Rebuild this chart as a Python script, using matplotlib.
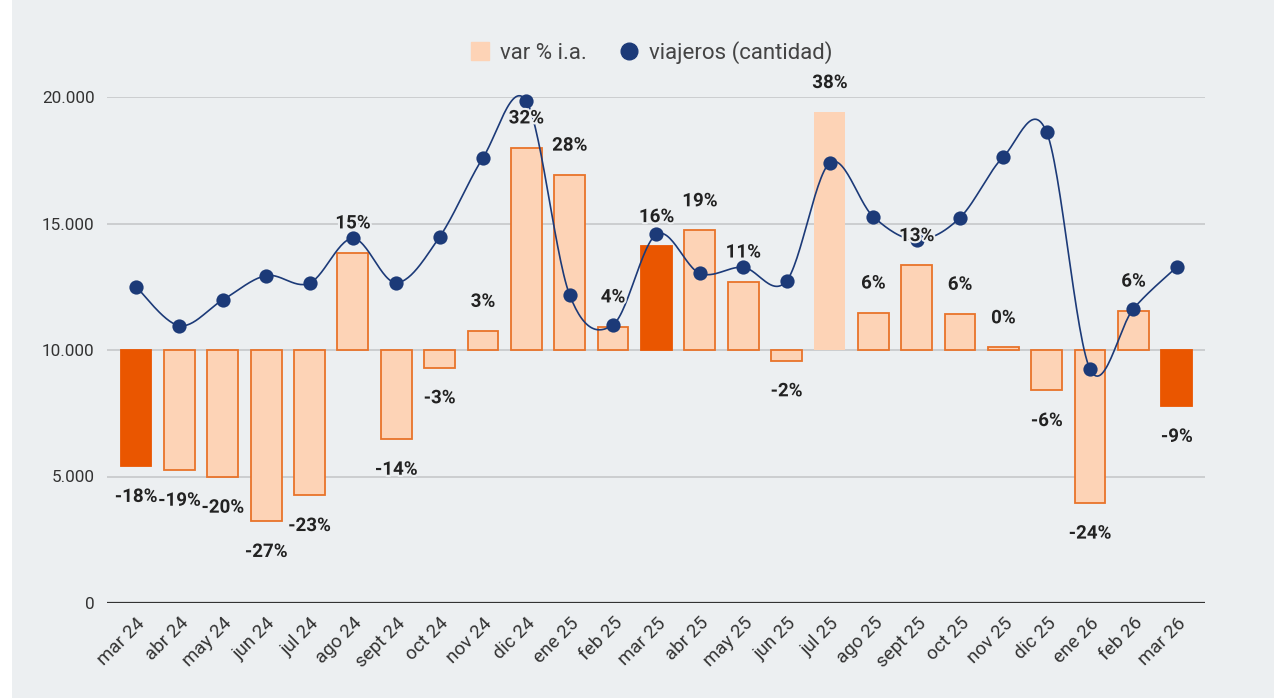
import numpy as np
import matplotlib
matplotlib.use("Agg")
import matplotlib.pyplot as plt
import matplotlib.patheffects as pe
from matplotlib.lines import Line2D
from matplotlib.patches import Rectangle

plt.rcParams['font.family'] = ['Roboto', 'DejaVu Sans']

meses = ["mar 24", "abr 24", "may 24", "jun 24", "jul 24", "ago 24", "sept 24",
         "oct 24", "nov 24", "dic 24", "ene 25", "feb 25", "mar 25", "abr 25",
         "may 25", "jun 25", "jul 25", "ago 25", "sept 25", "oct 25", "nov 25",
         "dic 25", "ene 26", "feb 26", "mar 26"]

# variacion % interanual
var_ia = [-18.4, -19.0, -20.1, -27.1, -23.0, 15.4, -14.1, -2.8, 3.0, 32.0,
          27.7, 3.7, 16.4, 18.9, 10.8, -1.7, 37.6, 5.9, 13.4, 5.7, 0.4,
          -6.4, -24.2, 6.2, -8.9]

# viajeros (cantidad)
viajeros = [12500, 10960, 11980, 12940, 12640, 14410, 12660, 14470, 17600,
            19840, 12170, 11000, 14570, 13030, 13270, 12730, 17400, 15270,
            14350, 15230, 17640, 18600, 9240, 11630, 13280]

destacados = ["mar 24", "mar 25", "mar 26"]
sin_borde = ["jul 25"]

bg = "#ECEFF1"
peach = "#FDD3B6"
borde = "#E8732A"
naranja = "#EA5600"
azul = "#1C3A78"

fig = plt.figure(figsize=(12.74, 6.98), dpi=100, facecolor="white")
fig.patches.append(Rectangle((12 / 1274, 0), 1, 1, transform=fig.transFigure,
                             facecolor=bg, edgecolor="none", zorder=-10))
ax = fig.add_axes([107 / 1274, 95 / 698, (1205 - 107) / 1274, (603 - 97) / 698])
ax.set_facecolor(bg)

x = np.arange(len(meses))
base = 10000
escala = 250  # viajeros por punto porcentual (eje secundario oculto)

for i, (m, v) in enumerate(zip(meses, var_ia)):
    if m in destacados:
        fc, ec = naranja, naranja
    elif m in sin_borde:
        fc, ec = peach, "none"
    else:
        fc, ec = peach, borde
    ax.bar(i, v * escala, bottom=base, width=0.71, color=fc, edgecolor=ec,
           linewidth=1.3, zorder=2)
    off = 21 if v >= 0 else -22
    ax.annotate(f"{round(v):d}%", (i, base + v * escala), xytext=(0, off),
                textcoords="offset points", ha="center", va="center",
                fontsize=13.5, fontweight="bold", color="#222222", zorder=6,
                path_effects=[pe.withStroke(linewidth=3, foreground=bg)])

# curva suavizada (catmull-rom) entre los puntos
px = np.array(x, dtype=float)
py = np.array(viajeros, dtype=float)
P = np.column_stack([px, py])
P = np.vstack([P[0], P, P[-1]])
t = np.linspace(0, 1, 30)[:, None]
curva = []
for k in range(1, len(P) - 2):
    p0, p1, p2, p3 = P[k - 1], P[k], P[k + 1], P[k + 2]
    seg = 0.5 * ((2 * p1) + (-p0 + p2) * t + (2 * p0 - 5 * p1 + 4 * p2 - p3) * t ** 2
                 + (-p0 + 3 * p1 - 3 * p2 + p3) * t ** 3)
    curva.append(seg)
curva = np.vstack(curva)
ax.plot(curva[:, 0], curva[:, 1], color=azul, lw=1.2, zorder=4, clip_on=False)
ax.scatter(px, py, s=105, color=azul, zorder=5, clip_on=False, linewidths=0)

ax.set_xlim(-0.67, len(meses) - 1 + 0.65)
ax.set_ylim(0, 20000)
ax.set_yticks([0, 5000, 10000, 15000, 20000])
ax.set_yticklabels(["0", "5.000", "10.000", "15.000", "20.000"])
ax.grid(axis="y", color="#C6C8CA", lw=1.2, zorder=0)
ax.set_axisbelow(True)
ax.axhline(0, color="#333333", lw=1.6, zorder=3)
for s in ax.spines.values():
    s.set_visible(False)
ax.tick_params(axis="y", length=0, pad=9, labelsize=12.3, labelcolor="#333333")
ax.set_xticks(x)
ax.set_xticklabels(meses, rotation=45, ha="right", rotation_mode="anchor",
                   fontsize=13.5, color="#333333")
ax.tick_params(axis="x", length=0, pad=8)

handles = [Line2D([], [], marker="s", ls="none", markersize=13, color=peach),
           Line2D([], [], marker="o", ls="none", markersize=12, color=azul)]
fig.legend(handles, ["var % i.a.", "viajeros (cantidad)"], loc="center",
           bbox_to_anchor=(0.51, 0.925), ncol=2, frameon=False, fontsize=16,
           labelcolor="#444444", handletextpad=0.3, columnspacing=1.3,
           handlelength=1.2)

fig.savefig("out.png", dpi=100, facecolor="white")
